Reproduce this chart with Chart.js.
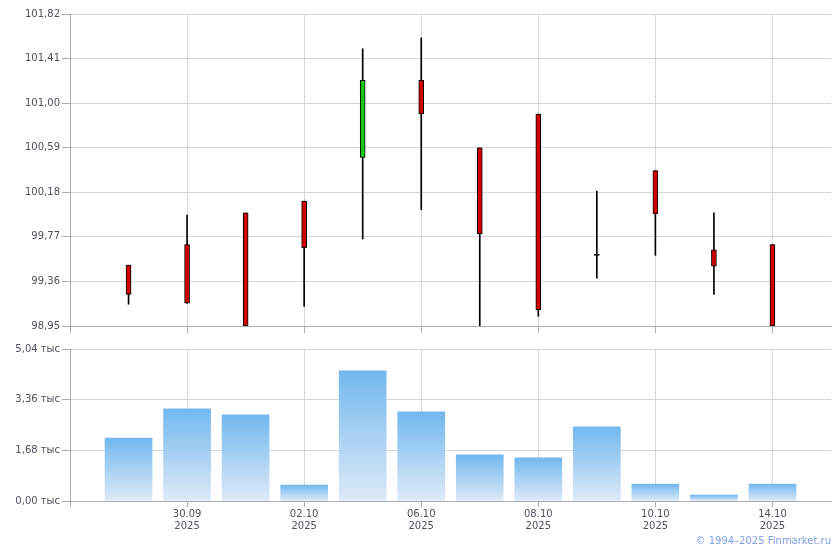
<!DOCTYPE html>
<html>
<head>
<meta charset="utf-8">
<script src="https://cdn.jsdelivr.net/npm/chart.js@4.4.1/dist/chart.umd.min.js"></script>
<style>
  html, body { margin: 0; padding: 0; background: #fff; }
  #wrap { position: relative; width: 840px; height: 550px; overflow: hidden; }
  .pane { position: absolute; left: 0; width: 840px; }
  #pricePane { top: 0; height: 340px; }
  #volPane { top: 340px; height: 210px; }
  #copy {
    position: absolute; right: 9px; top: 535px;
    font: 10px 'DejaVu Sans', Verdana, sans-serif; color: #7f9fe6;
  }
</style>
</head>
<body>
<div id="wrap">
  <div class="pane" id="pricePane"><canvas id="price"></canvas></div>
  <div class="pane" id="volPane"><canvas id="volume"></canvas></div>
  <div id="copy">© 1994–2025 Finmarket.ru</div>
</div>
<script>
// trading days, one candle + one volume bar each
const DATES = ['29.09', '30.09', '01.10', '02.10', '03.10', '06.10', '07.10', '08.10', '09.10', '10.10', '13.10', '14.10'];
const YEAR = '2025';

const OPEN  = [99.51, 99.70, 99.99, 100.10, 100.50, 101.21, 100.59, 100.90, 99.60, 100.38, 99.65, 99.70];
const CLOSE = [99.24, 99.16, 98.95, 99.67, 101.21, 100.90, 99.80, 99.10, 99.60, 99.98, 99.50, 98.95];
const HIGH  = [99.51, 99.97, 99.99, 100.10, 101.50, 101.60, 100.59, 100.90, 100.19, 100.38, 99.99, 99.70];
const LOW   = [99.15, 99.16, 98.95, 99.13, 99.75, 100.02, 98.95, 99.04, 99.39, 99.60, 99.24, 98.95];

const VOLUME = [2090, 3060, 2860, 530, 4320, 2960, 1530, 1430, 2460, 565, 200, 565];

const PRICE_TICKS = [98.95, 99.36, 99.77, 100.18, 100.59, 101.00, 101.41, 101.82];
const VOLUME_TICKS = [0, 1680, 3360, 5040];

// style
const FONT = { family: "'DejaVu Sans', Verdana, sans-serif", size: 10 };
const TEXT_COLOR = '#4e5160';
const GRID_COLOR = '#d3d8dd';
const AXIS_COLOR = '#a9aeb6';
const UP_COLOR = '#14c814';
const DOWN_COLOR = '#d00000';

const isLabelled = v => v >= 0 && v < DATES.length && v % 2 === 1;
const comma = (v, d) => v.toFixed(d).replace('.', ',');

function xAxis(showLabels, height, tickLen) {
  return {
    type: 'linear',
    min: -1,
    max: DATES.length,
    offset: false,
    afterBuildTicks: s => { s.ticks = []; for (let v = -1; v <= DATES.length; v++) s.ticks.push({ value: v }); },
    afterFit: s => { s.height = height; },
    border: { color: AXIS_COLOR, width: 1 },
    grid: {
      offset: false,
      color: c => (c.tick && isLabelled(c.tick.value)) ? GRID_COLOR : 'transparent',
      tickColor: c => (c.tick && (isLabelled(c.tick.value) || c.tick.value === -1)) ? AXIS_COLOR : 'transparent',
      tickLength: tickLen
    },
    ticks: {
      autoSkip: false,
      maxRotation: 0,
      padding: 1,
      color: TEXT_COLOR,
      font: FONT,
      callback: v => (showLabels && isLabelled(v)) ? [DATES[v], YEAR] : ''
    }
  };
}

function yAxis(min, max, tickList, fmt) {
  return {
    min: min,
    max: max,
    afterBuildTicks: s => { s.ticks = tickList.map(v => ({ value: v })); },
    afterFit: s => { s.width = 70; },
    border: { color: AXIS_COLOR, width: 1 },
    grid: { color: GRID_COLOR, tickColor: AXIS_COLOR, tickLength: 8 },
    ticks: { color: TEXT_COLOR, font: FONT, padding: 2, callback: fmt }
  };
}

const idx = DATES.map((d, i) => i);

function bodyColor(i) {
  if (CLOSE[i] === OPEN[i]) return '#000'; // doji: just a dash
  return CLOSE[i] > OPEN[i] ? UP_COLOR : DOWN_COLOR;
}

new Chart(document.getElementById('price'), {
  type: 'bar',
  data: {
    datasets: [{
      // candle bodies (drawn on top)
      data: idx.map(i => ({ x: i, y: [OPEN[i], CLOSE[i]] })),
      backgroundColor: idx.map(bodyColor),
      borderColor: '#000',
      borderWidth: 1,
      borderSkipped: false,
      barThickness: 5,
      minBarLength: 1,
      grouped: false
    }, {
      // wicks
      data: idx.map(i => ({ x: i, y: [LOW[i], HIGH[i]] })),
      backgroundColor: '#000',
      borderWidth: 0,
      barThickness: 1,
      grouped: false
    }]
  },
  options: {
    responsive: true,
    maintainAspectRatio: false,
    animation: false,
    layout: { padding: { top: 14, right: 9, left: 0, bottom: 0 } },
    plugins: { legend: { display: false }, tooltip: { enabled: false } },
    scales: {
      x: xAxis(false, 14, 7),
      y: yAxis(98.95, 101.82, PRICE_TICKS, v => comma(v, 2))
    }
  }
});

new Chart(document.getElementById('volume'), {
  type: 'bar',
  data: {
    datasets: [{
      data: idx.map(i => ({ x: i, y: VOLUME[i] })),
      barThickness: 47,
      borderWidth: 0,
      backgroundColor: c => {
        const chart = c.chart;
        const area = chart.chartArea;
        if (!area || c.parsed == null) return '#a9cff3';
        const top = chart.scales.y.getPixelForValue(c.parsed.y);
        const g = chart.ctx.createLinearGradient(0, top, 0, area.bottom);
        g.addColorStop(0, 'rgb(114,184,239)');
        g.addColorStop(1, 'rgb(222,234,247)');
        return g;
      }
    }]
  },
  options: {
    responsive: true,
    maintainAspectRatio: false,
    animation: false,
    layout: { padding: { top: 9, right: 9, left: 0, bottom: 0 } },
    plugins: { legend: { display: false }, tooltip: { enabled: false } },
    scales: {
      x: xAxis(true, 49, 6),
      y: yAxis(0, 5040, VOLUME_TICKS, v => comma(v / 1000, 2) + ' тыс')
    }
  }
});
</script>
</body>
</html>
